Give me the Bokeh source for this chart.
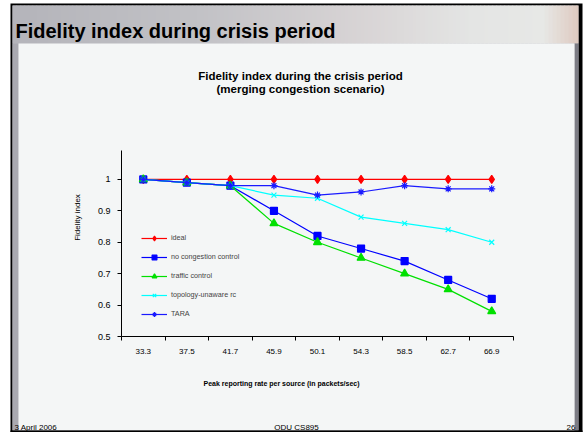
from bokeh.plotting import figure
from bokeh.models import (Range1d, FixedTicker, PrintfTickFormatter, Legend, LegendItem,
                          Label, BoxAnnotation, LinearAxis)
from bokeh.embed import file_html
from bokeh.resources import INLINE
import math

# ---------------- data ----------------
categories = ["33.3", "37.5", "41.7", "45.9", "50.1", "54.3", "58.5", "62.7", "66.9"]
ideal = [1.0, 1.0, 1.0, 1.0, 1.0, 1.0, 1.0, 1.0, 1.0]
no_congestion_control = [1.0, 0.99, 0.98, 0.90, 0.82, 0.78, 0.74, 0.68, 0.62]
traffic_control = [1.0, 0.99, 0.98, 0.86, 0.80, 0.75, 0.70, 0.65, 0.58]
topology_unaware_rc = [1.0, 0.99, 0.98, 0.95, 0.94, 0.88, 0.86, 0.84, 0.80]
tara = [1.0, 0.99, 0.98, 0.98, 0.95, 0.96, 0.98, 0.97, 0.97]
y_ticks = [0.5, 0.6, 0.7, 0.8, 0.9, 1.0]

FONT = "Liberation Sans"
W, H = 588, 432
FL, FR, FT, FB = 121, 513, 150, 336      # chart area in canvas pixels
YMIN, YMAX = 0.5, 1.092
N = len(categories)
XS = (FR - FL) / N
YS = (FB - FT) / (YMAX - YMIN)

p = figure(width=W, height=H, output_backend="svg", toolbar_location=None,
           x_axis_location=None, y_axis_location=None,
           x_range=Range1d(-FL / XS, N + (W - FR) / XS),
           y_range=Range1d(YMIN - (H - FB) / YS, YMAX + FT / YS),
           min_border=0)
p.title.visible = False
p.border_fill_color = "white"
p.background_fill_color = "white"
p.outline_line_color = None
p.grid.visible = False


def sy(py):
    return H - py


def box(x0, y0, x1, y1, color, level="underlay"):
    b = BoxAnnotation(left=x0, right=x1, top=sy(y0), bottom=sy(y1),
                      left_units="screen", right_units="screen",
                      top_units="screen", bottom_units="screen",
                      fill_color=color, fill_alpha=1.0, line_color=None, level=level)
    p.add_layout(b)


def hexcol(rgb):
    return "#%02x%02x%02x" % tuple(int(round(v)) for v in rgb)


# slide decorations
box(10, 3, 582, 432, "black")
box(12, 5, 578, 430, "#b9b9be")
anchors = [(12, (180, 180, 186)), (200, (194, 194, 198)), (360, (216, 212, 213)),
           (470, (228, 229, 228)), (540, (231, 232, 230)), (578, (222, 200, 190))]
x = 12.0
step = 4.0
while x < 578:
    for (a0, c0), (a1, c1) in zip(anchors[:-1], anchors[1:]):
        if a0 <= x <= a1:
            t = (x - a0) / (a1 - a0)
            col = [c0[k] + (c1[k] - c0[k]) * t for k in range(3)]
            break
    box(x, 5, min(x + step + 0.6, 578), 43, hexcol(col))
    x += step
box(12, 43, 18, 430, "#a9a9b0")
box(574, 43, 578, 430, "#7c7c84")
box(18, 43, 574, 430, "#f4f6f6")

# axes
xs = [i + 0.5 for i in range(N)]
xa = LinearAxis(fixed_location=YMIN, bounds=(0, N))
xa.ticker = FixedTicker(ticks=xs, minor_ticks=list(range(N + 1)))
xa.major_label_overrides = {x: c for x, c in zip(xs, categories)}
xa.major_tick_line_color = None
xa.major_tick_in = 0
xa.major_tick_out = 0
xa.minor_tick_in = 0
xa.minor_tick_out = 4
xa.minor_tick_line_color = "black"
xa.axis_line_color = "black"
xa.major_label_standoff = 8
xa.major_label_text_font = FONT
xa.major_label_text_font_size = "8px"
xa.major_label_text_color = "black"
p.add_layout(xa, "below")

ya = LinearAxis(fixed_location=0, bounds=(YMIN, YMAX))
ya.ticker = FixedTicker(ticks=y_ticks)
ya.formatter = PrintfTickFormatter(format="%g")
ya.major_tick_in = 0
ya.major_tick_out = 4
ya.minor_tick_line_color = None
ya.axis_line_color = "black"
ya.major_label_standoff = 7
ya.major_label_text_font = FONT
ya.major_label_text_font_size = "9px"
ya.major_label_text_color = "black"
p.add_layout(ya, "left")

series = [
    ("ideal", ideal, "#ff0000", "diamond", 8),
    ("no congestion control", no_congestion_control, "#0000ff", "square", 7),
    ("traffic control", traffic_control, "#00e000", "triangle", 8),
    ("topology-unaware rc", topology_unaware_rc, "#00ffff", "x", 7),
    ("TARA", tara, "#1a1aff", "asterisk", 7),
]
items = []
for name, ys, col, mk, sz in series:
    r1 = p.line(xs, ys, line_color=col, line_width=1.2)
    r2 = p.scatter(xs, ys, marker=mk, size=sz, fill_color=col, line_color=col, line_width=1.2)
    items.append(LegendItem(label=name, renderers=[r1, r2]))

leg = Legend(items=items, location=(FL + 20, H - FB + 16.5), border_line_color=None,
             background_fill_alpha=0, label_text_font=FONT, label_text_font_size="7.2px",
             glyph_width=26, glyph_height=12, label_height=12, spacing=7,
             padding=0, margin=0, label_standoff=4)
p.add_layout(leg)


def label(px, py, text, size, bold=False, align="left", baseline="alphabetic",
          angle=0.0, color="black"):
    lb = Label(x=px, y=sy(py), x_units="screen", y_units="screen", text=text,
               text_font=FONT, text_font_size=size,
               text_font_style="bold" if bold else "normal",
               text_align=align, text_baseline=baseline, angle=angle,
               text_color=color)
    p.add_layout(lb)


label(15, 30, "Fidelity index during crisis period", "20px", bold=True)
label(300, 75, "Fidelity index during the crisis period", "11.5px", bold=True, align="center")
label(300, 88, "(merging congestion scenario)", "11.5px", bold=True, align="center")
label(77, 217, "Fidelity index", "8px", align="center", baseline="middle", angle=math.pi / 2)
label(281, 383, "Peak reporting rate per source (in packets/sec)", "7px", bold=True,
      align="center", baseline="middle")
label(14, 427, "3 April 2006", "8px")
label(296, 427, "ODU CS895", "8px", align="center")
label(566, 427, "26", "8px")

box(10, 430, 582, 432, "black", level="overlay")

open("out.html", "w").write(file_html(p, INLINE))
